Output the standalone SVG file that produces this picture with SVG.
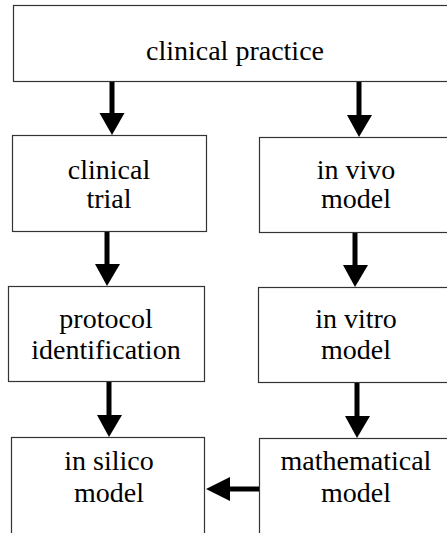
<svg xmlns="http://www.w3.org/2000/svg" width="447" height="533" viewBox="0 0 447 533">
<style>
.box{fill:#fff;stroke:#333;stroke-width:1.2}
.sh{stroke:#000;stroke-width:5;fill:none}
.hd{fill:#000}
</style>
<rect width="447" height="533" fill="#fff"/>
<g font-family="Liberation Serif, Times New Roman, Tinos, DejaVu Serif, serif" font-size="28" text-anchor="middle" fill="#000">
<g id="clinical-practice"><rect class="box" x="13.5" y="5.5" width="445" height="76"/><text x="235" y="60">clinical practice</text></g>
<g id="clinical-trial"><rect class="box" x="12.5" y="135.5" width="194" height="96"/><text x="109" y="179">clinical</text><text x="109" y="208">trial</text></g>
<g id="in-vivo"><rect class="box" x="259.5" y="137.5" width="200" height="95"/><text x="356" y="179">in vivo</text><text x="356" y="208">model</text></g>
<g id="protocol"><rect class="box" x="8.5" y="286.5" width="196" height="95"/><text x="106" y="328">protocol</text><text x="106" y="359">identification</text></g>
<g id="in-vitro"><rect class="box" x="258.5" y="287.5" width="200" height="95"/><text x="356" y="328">in vitro</text><text x="356" y="359">model</text></g>
<g id="in-silico"><rect class="box" x="11.5" y="437.5" width="193" height="110"/><text x="109" y="470">in silico</text><text x="109" y="502">model</text></g>
<g id="mathematical"><rect class="box" x="259.5" y="438.5" width="200" height="110"/><text x="356" y="470">mathematical</text><text x="356" y="502">model</text></g>
</g>
<g id="connectors">
<line class="sh" x1="112" y1="82" x2="112" y2="114"/><polygon class="hd" points="99.5,113 124.5,113 112,135"/>
<line class="sh" x1="359" y1="82" x2="359" y2="116"/><polygon class="hd" points="347,115 372,115 359,137"/>
<line class="sh" x1="107" y1="232" x2="107" y2="265"/><polygon class="hd" points="95,264 120,264 107,286"/>
<line class="sh" x1="355" y1="233" x2="355" y2="266"/><polygon class="hd" points="343,265 368,265 355,287"/>
<line class="sh" x1="109" y1="382" x2="109" y2="416"/><polygon class="hd" points="97,415 122,415 109,437"/>
<line class="sh" x1="357" y1="383" x2="357" y2="417"/><polygon class="hd" points="345,416 370,416 357,438"/>
<line class="sh" x1="259" y1="489" x2="228" y2="489"/><polygon class="hd" points="230,477 230,501 206,489"/>
</g>
</svg>
